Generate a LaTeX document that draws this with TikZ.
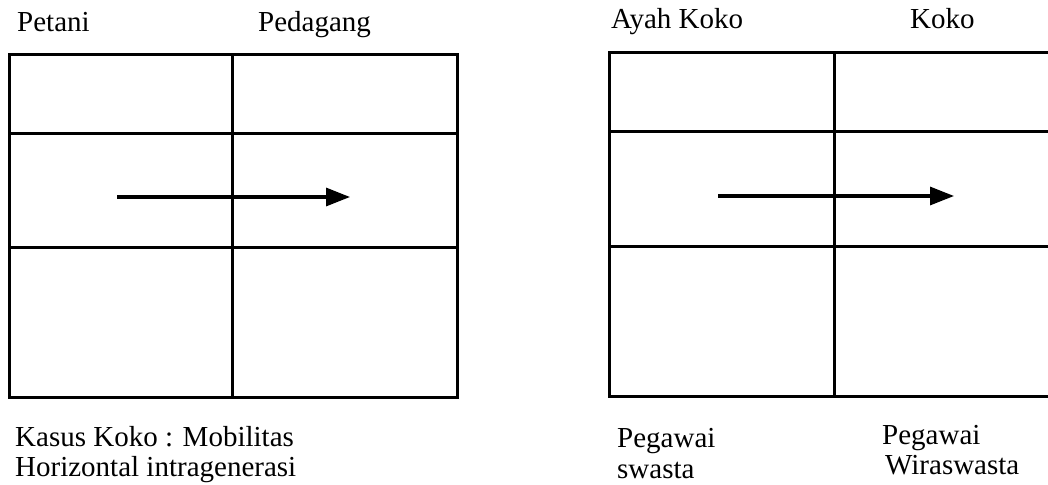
\documentclass[tikz,border=0pt]{standalone}
\usepackage{fontspec}
\setmainfont{Liberation Serif}
\usetikzlibrary{arrows.meta}
\begin{document}
\begin{tikzpicture}[x=1pt,y=-1pt,
  gridline/.style={line width=3pt},
  flow/.style={line width=3.2pt,-{Triangle[length=24pt,width=18pt]}},
  lbl/.style={anchor=base west,inner sep=0pt,font=\fontsize{29}{32}\selectfont}]
\useasboundingbox (0,0) rectangle (1048,484);
\clip (0,0) rectangle (1048,484);
% left grid
\draw[gridline] (9,55) rectangle (457,397);
\draw[gridline] (9,133) -- (457,133);
\draw[gridline] (9,247) -- (457,247);
\draw[gridline] (232,55) -- (232,397);
\coordinate (a1) at (117,197);
\coordinate (b1) at (350,197);
\draw[flow] (a1) -- (b1);
% right grid
\draw[gridline] (609,53) rectangle (1060,396);
\draw[gridline] (609,131) -- (1060,131);
\draw[gridline] (609,246) -- (1060,246);
\draw[gridline] (834,53) -- (834,396);
\coordinate (a2) at (718,196);
\coordinate (b2) at (954,196);
\draw[flow] (a2) -- (b2);
% labels
\node[lbl] (t1) at (17,32) {Petani};
\node[lbl] (t2) at (258,32) {Pedagang};
\node[lbl] (t3) at (611,29) {Ayah Koko};
\node[lbl] (t4) at (910,29) {Koko};
\node[lbl] (c1) at (15,446) {Kasus Koko : Mobilitas};
\node[lbl] (c2) at (15,476) {Horizontal intragenerasi};
\node[lbl] (p1) at (617,447) {Pegawai};
\node[lbl] (p2) at (617,478) {swasta};
\node[lbl] (p3) at (882,444) {Pegawai};
\node[lbl] (p4) at (885,474) {Wiraswasta};
\end{tikzpicture}
\end{document}
